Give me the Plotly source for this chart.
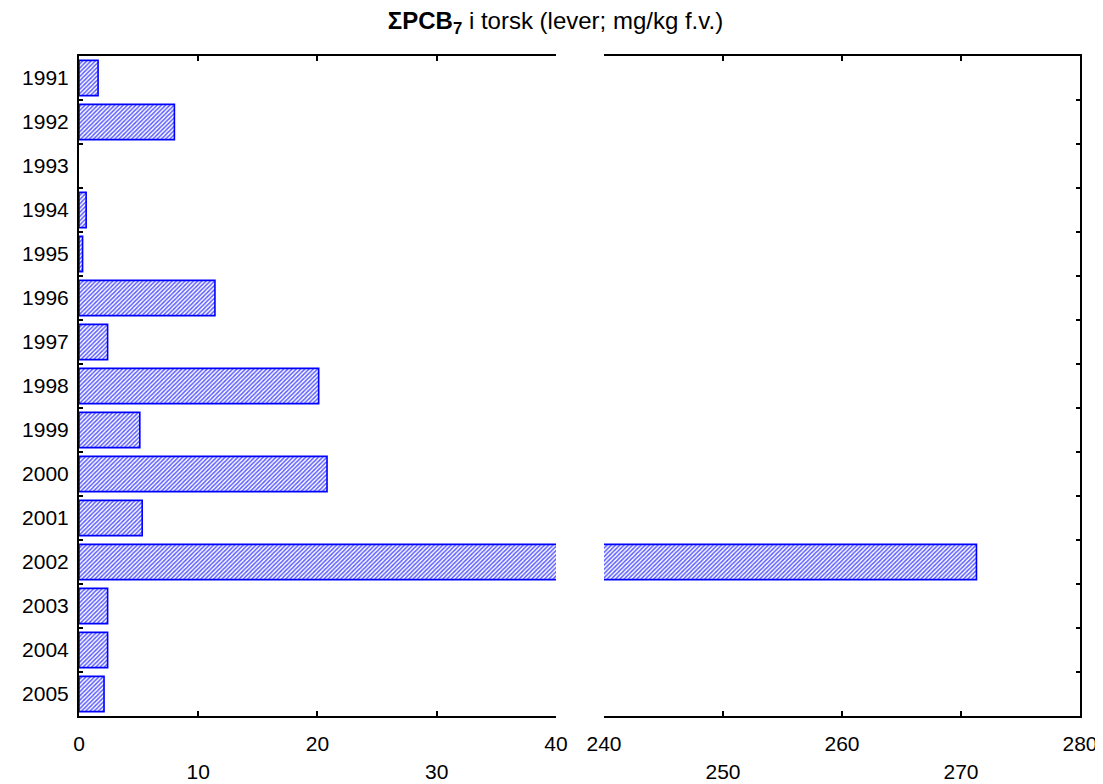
import plotly.graph_objects as go

# data (mg/kg f.v.)
years = ["1991", "1992", "1993", "1994", "1995", "1996", "1997", "1998",
         "1999", "2000", "2001", "2002", "2003", "2004", "2005"]
pcb7 = [1.6, 8.0, None, 0.6, 0.3, 11.4, 2.4, 20.1,
        5.1, 20.8, 5.3, 271.3, 2.4, 2.4, 2.1]

left_ticks = [0, 10, 20, 30, 40]
left_text = ["0", "<br>10", "20", "<br>30", "40"]
right_ticks = [240, 250, 260, 270, 280]
right_text = ["240", "<br>250", "260", "<br>270", "280"]

FONT = "Liberation Sans, Arial, sans-serif"
bar_style = dict(
    color="white",
    line=dict(color="#0000ff", width=1.6),
    pattern=dict(shape="/", fgcolor="#5c5cff", bgcolor="white",
                 size=3, solidity=0.5, fillmode="replace"),
)

fig = go.Figure()

# left part of the broken axis
fig.add_trace(go.Bar(
    y=years, x=pcb7, orientation="h",
    marker=bar_style, xaxis="x", yaxis="y",
    showlegend=False,
))
# right part of the broken axis
fig.add_trace(go.Bar(
    y=years, x=pcb7, orientation="h",
    marker=bar_style, xaxis="x2", yaxis="y2",
    showlegend=False,
))

axis_common = dict(
    showline=True, linecolor="black", linewidth=2,
    ticks="inside", ticklen=5, tickwidth=2, tickcolor="black",
    showgrid=False, zeroline=False, automargin=False,
    tickfont=dict(family=FONT, size=21, color="black"),
)

# page body has an 8px margin, so the figure is a bit smaller than the window
W, H = 1095, 776
fig.update_layout(
    width=W, height=H,
    margin=dict(l=71, r=23, t=48, b=68),
    paper_bgcolor="white", plot_bgcolor="white",
    bargap=0.2,
    title=dict(
        text="<b>ΣPCB<sub>7</sub></b> i torsk (lever; mg/kg f.v.)",
        x=0.5, xanchor="center", y=1 - 13 / H, yanchor="middle",
        font=dict(family=FONT, size=24, color="black"),
    ),
    xaxis=dict(
        axis_common, domain=[0, 0.4765], range=[0, 40],
        tickvals=left_ticks, ticktext=left_text, mirror="ticks",
        anchor="y", ticklabelstandoff=8,
    ),
    xaxis2=dict(
        axis_common, domain=[0.5245, 1], range=[240, 280],
        tickvals=right_ticks, ticktext=right_text, mirror="ticks",
        anchor="y2", ticklabelstandoff=8,
    ),
    yaxis=dict(
        axis_common, type="category", categoryorder="array",
        categoryarray=years, range=[14.5, -0.5], tickson="boundaries",
        ticklen=4, anchor="x", ticklabelstandoff=4,
    ),
    yaxis2=dict(
        axis_common, type="category", categoryorder="array",
        categoryarray=years, range=[14.5, -0.5], tickson="boundaries",
        ticklen=4, anchor="x2", side="right", overlaying="y",
        showticklabels=False,
    ),
)

fig.write_html("out.html")
